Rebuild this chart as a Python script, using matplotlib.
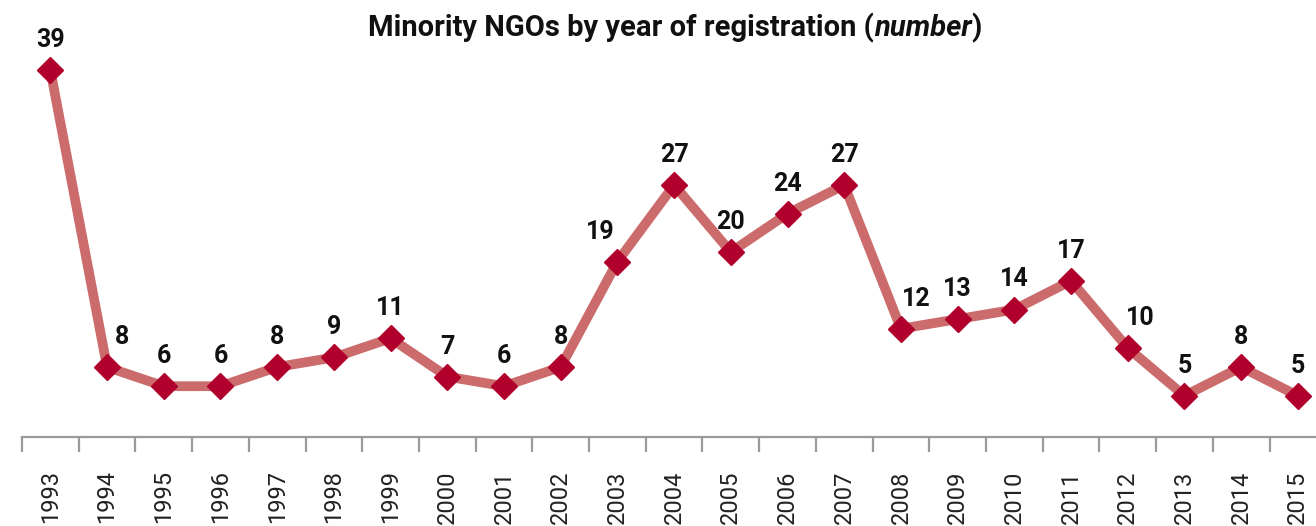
import matplotlib
matplotlib.use("Agg")
import matplotlib.pyplot as plt
import numpy as np

years = ["1993","1994","1995","1996","1997","1998","1999","2000","2001","2002","2003",
         "2004","2005","2006","2007","2008","2009","2010","2011","2012","2013","2014","2015"]
counts = [39, 8, 6, 6, 8, 9, 11, 7, 6, 8, 19, 27, 20, 24, 27, 12, 13, 14, 17, 10, 5, 8, 5]

# horizontal nudges (points) of some value labels, to keep them clear of the line
label_nudge = {"1994": 11, "2003": -12, "2008": 11, "2012": 9}

plt.rcParams['font.family'] = ['Roboto', 'DejaVu Sans']

fig = plt.figure(figsize=(13.16, 5.26), dpi=100)
ax = fig.add_axes([22/1316, (526-437)/526, 1 - 22/1316, 437/526])

x = np.arange(len(years))
ax.plot(x, counts, color='#cc6b6b', lw=7, solid_capstyle='butt', zorder=2)
ax.plot(x, counts, ls='none', marker='D', markersize=13, color='#b0002b', zorder=3)

for xi, yr, v in zip(x, years, counts):
    ax.annotate(str(v), (xi, v), xytext=(label_nudge.get(yr, 0), 13), textcoords='offset points',
                ha='center', va='bottom', fontsize=18, fontweight='bold', color='#111111')

ax.set_xlim(-0.5, 22.32)
ax.set_ylim(0.7, 46.3)

for s in ['top', 'right', 'left']:
    ax.spines[s].set_visible(False)
ax.spines['bottom'].set_color('#9a9a9a')
ax.spines['bottom'].set_linewidth(1.6)
ax.set_yticks([])

ax.set_xticks(x)
ax.set_xticklabels(years, rotation=90, fontsize=17, color='#222222', va='top')
ax.tick_params(axis='x', which='major', length=0, pad=24)
ax.set_xticks(np.arange(-0.5, 22.5, 1), minor=True)
ax.tick_params(axis='x', which='minor', length=11, width=1.6, color='#9a9a9a')

# Title with bold-italic "number"
parts = [("Minority NGOs by year of registration (", 'normal'),
         ("number", 'italic'),
         (")", 'normal')]
renderer = fig.canvas.get_renderer()
texts = []
widths = []
for s, st in parts:
    t = fig.text(0, 0, s, fontsize=21, fontweight='bold', fontstyle=st,
                 color='#111111', va='center', ha='left')
    texts.append(t)
    widths.append(t.get_window_extent(renderer).width)
total = sum(widths)
xc = 675
xpix = xc - total / 2
for t, w in zip(texts, widths):
    t.set_position((xpix / 1316, 1 - 28 / 526))
    xpix += w

fig.savefig("out.png", dpi=100)
